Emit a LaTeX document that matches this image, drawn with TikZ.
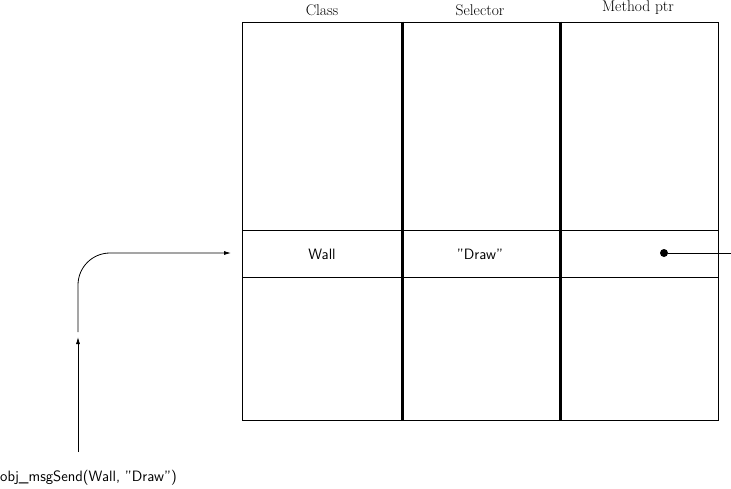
\documentclass[tikz,border=0pt]{standalone}
\usetikzlibrary{arrows.meta}
\begin{document}
\begin{tikzpicture}[x=1pt,y=-1pt,
  cell/.style={draw,line width=0.8pt,inner sep=0pt,anchor=center},
  hdr/.style={font=\fontsize{15.5}{18}\selectfont,inner sep=0pt},
  lbl/.style={font=\fontsize{15}{18}\selectfont\sffamily,inner sep=0pt},
  arr/.style={line width=0.8pt,-{Latex[length=7pt,width=4pt]}},
  thickv/.style={line width=2.2pt}]
\useasboundingbox (0,0) rectangle (731,488);
% cells
\node[cell,minimum width=160pt,minimum height=208pt] (a1) at (322,126) {};
\node[cell,minimum width=158pt,minimum height=208pt] (b1) at (481,126) {};
\node[cell,minimum width=158pt,minimum height=208pt] (c1) at (639,126) {};
\node[cell,minimum width=160pt,minimum height=47pt] (a2) at (322,253.5) {};
\node[cell,minimum width=158pt,minimum height=47pt] (b2) at (481,253.5) {};
\node[cell,minimum width=158pt,minimum height=47pt] (c2) at (639,253.5) {};
\node[cell,minimum width=160pt,minimum height=143pt] (a3) at (322,348.5) {};
\node[cell,minimum width=158pt,minimum height=143pt] (b3) at (481,348.5) {};
\node[cell,minimum width=158pt,minimum height=143pt] (c3) at (639,348.5) {};
\draw[thickv] (a1.north east) -- (a3.south east);
\draw[thickv] (b1.north east) -- (b3.south east);
% headers
\node[hdr] (hclass) at (322,10) {Class};
\node[hdr] (hsel) at (480,10) {Selector};
\node[hdr] (hmeth) at (638,8) {Method ptr};
% row texts
\node[lbl] (wall) at (322,254) {Wall};
\node[lbl] (draw) at (480,254) {''Draw''};
% pointer
\node[circle,fill,inner sep=0pt,minimum size=8pt] (dot) at (664,253) {};
\coordinate (ptrend) at (731,253);
\draw[line width=0.8pt] (dot) -- (ptrend);
% call
\node[lbl,anchor=west] (call) at (0,478) {obj\_msgSend(Wall, ''Draw'')};
\coordinate (up0) at (78,452);
\coordinate (up1) at (78,337);
\coordinate (c0) at (78,332);
\coordinate (corner) at (78,253);
\coordinate (tgt) at (231,253);
\draw[arr] (up0) -- (up1);
\draw[arr,rounded corners=32pt] (c0) -- (corner) -- (tgt);
\end{tikzpicture}
\end{document}
